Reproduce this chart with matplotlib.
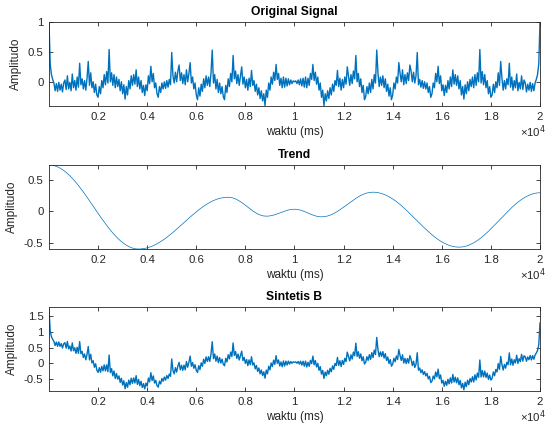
import numpy as np
import matplotlib
matplotlib.use("Agg")
import matplotlib.pyplot as plt

# time axis (ms), one sample every 50 ms
waktu = np.arange(0, 20001, 50)

# original signal 0..10000 ms; the second half is the mirror image
original_half = [
    1.00, 0.30, 0.12, 0.04, -0.02, -0.15, -0.03, -0.16, -0.01, -0.14,
    -0.04, -0.17, -0.02, 0.03, -0.13, 0.10, -0.12, -0.01, -0.15, 0.13,
    -0.10, 0.02, -0.14, 0.08, -0.09, 0.31, -0.05, 0.05, -0.12, 0.02,
    -0.14, 0.06, 0.34, -0.06, 0.15, -0.10, 0.00, -0.18, -0.04, -0.22,
    -0.26, -0.08, -0.20, 0.02, -0.10, 0.12, -0.05, 0.17, -0.02, 0.54,
    0.00, 0.15, -0.06, 0.12, -0.10, 0.08, -0.08, 0.04, -0.15, 0.00,
    -0.20, -0.05, -0.29, -0.08, -0.22, 0.02, -0.12, 0.10, -0.06, 0.12,
    -0.04, 0.20, -0.08, 0.08, -0.12, 0.02, -0.18, -0.06, -0.23, -0.05,
    -0.15, 0.10, -0.03, 0.26, 0.00, 0.14, -0.10, -0.02, -0.20, -0.26,
    -0.08, -0.18, -0.02, -0.12, 0.00, -0.11, 0.02, -0.09, 0.04, -0.05,
    0.49, 0.10, -0.02, 0.16, 0.00, 0.18, 0.28, 0.02, 0.15, -0.03,
    0.12, -0.05, 0.20, 0.00, 0.14, 0.32, -0.02, 0.08, -0.12, -0.02,
    -0.22, -0.30, -0.10, -0.24, -0.04, -0.16, 0.05, -0.10, 0.10, -0.06,
    0.08, -0.08, 0.15, 0.53, -0.02, 0.12, -0.12, 0.04, -0.18, -0.02,
    -0.20, -0.08, -0.25, -0.30, -0.06, -0.18, 0.05, -0.08, 0.14, 0.00,
    0.44, 0.05, 0.18, -0.03, 0.12, -0.06, 0.10, 0.25, -0.04, 0.08,
    -0.10, 0.04, -0.14, 0.06, -0.08, 0.19, -0.06, 0.02, -0.16, -0.04,
    -0.22, -0.10, -0.28, -0.15, -0.32, -0.20, -0.40, -0.14, -0.26, -0.02,
    -0.14, 0.08, -0.04, 0.16, 0.02, 0.29, 0.04, 0.14, -0.06, 0.06,
    -0.10, 0.08, -0.09, 0.06, -0.07, 0.05, -0.05, 0.03, -0.03, 0.015,
    0.00,
]
original = np.array(original_half + original_half[-2::-1])

# trend, same 50 ms grid
trend = np.array([
    0.730,
    0.729, 0.728, 0.724, 0.720, 0.715, 0.708, 0.700, 0.691, 0.681, 0.669,
    0.657, 0.643, 0.629, 0.613, 0.596, 0.578, 0.560, 0.540, 0.520, 0.499,
    0.476, 0.454, 0.430, 0.406, 0.381, 0.355, 0.329, 0.303, 0.276, 0.249,
    0.221, 0.193, 0.165, 0.136, 0.108, 0.079, 0.051, 0.022, -0.006, -0.035,
    -0.063, -0.091, -0.119, -0.146, -0.173, -0.199, -0.225, -0.251, -0.276, -0.300,
    -0.324, -0.346, -0.369, -0.390, -0.410, -0.430, -0.448, -0.466, -0.483, -0.499,
    -0.513, -0.527, -0.539, -0.551, -0.561, -0.570, -0.578, -0.585, -0.590, -0.594,
    -0.598, -0.599, -0.600,
    -0.600, -0.598, -0.597, -0.594, -0.591, -0.586, -0.582, -0.576, -0.570, -0.563,
    -0.555, -0.547, -0.537, -0.528, -0.517, -0.507, -0.495, -0.483, -0.470, -0.457,
    -0.444, -0.430, -0.415, -0.400, -0.385, -0.369, -0.353, -0.337, -0.320, -0.303,
    -0.286, -0.269, -0.252, -0.234, -0.216, -0.199, -0.181, -0.164, -0.146, -0.128,
    -0.111, -0.094, -0.077, -0.060, -0.043, -0.027, -0.011, 0.005, 0.020, 0.035,
    0.050, 0.064, 0.077, 0.090, 0.103, 0.115, 0.127, 0.137, 0.148, 0.157,
    0.167, 0.175, 0.183, 0.190, 0.196, 0.202, 0.206, 0.211, 0.214, 0.217,
    0.218, 0.220, 0.220,
    0.219, 0.217, 0.213, 0.208, 0.201, 0.193, 0.184, 0.173, 0.162, 0.149,
    0.136, 0.122, 0.108, 0.093, 0.078, 0.062, 0.047, 0.032, 0.018, 0.004,
    -0.009, -0.022, -0.033, -0.044, -0.053, -0.061, -0.068, -0.073, -0.077, -0.079,
    -0.080,
    -0.079, -0.078, -0.075, -0.072, -0.068, -0.063, -0.057, -0.050, -0.043, -0.036,
    -0.029, -0.021, -0.014, -0.007, 0.000, 0.007, 0.013, 0.018, 0.022, 0.025,
    0.028, 0.029, 0.030,
    0.029, 0.028, 0.025, 0.020, 0.015, 0.009, 0.002, -0.005, -0.013, -0.021,
    -0.030, -0.039, -0.047, -0.055, -0.062, -0.069, -0.075, -0.080, -0.085, -0.088,
    -0.089, -0.090,
    -0.089, -0.088, -0.085, -0.081, -0.077, -0.071, -0.064, -0.056, -0.047, -0.038,
    -0.028, -0.017, -0.005, 0.008, 0.020, 0.034, 0.048, 0.062, 0.076, 0.090,
    0.105, 0.120, 0.134, 0.148, 0.162, 0.176, 0.190, 0.203, 0.215, 0.227,
    0.238, 0.248, 0.257, 0.266, 0.274, 0.281, 0.287, 0.291, 0.295, 0.298,
    0.299, 0.300,
    0.300, 0.298, 0.296, 0.293, 0.289, 0.284, 0.279, 0.272, 0.265, 0.257,
    0.248, 0.238, 0.228, 0.217, 0.205, 0.193, 0.179, 0.166, 0.151, 0.136,
    0.121, 0.105, 0.088, 0.071, 0.054, 0.036, 0.018, -0.001, -0.019, -0.038,
    -0.057, -0.077, -0.096, -0.115, -0.135, -0.155, -0.174, -0.193, -0.213, -0.232,
    -0.251, -0.269, -0.288, -0.306, -0.324, -0.341, -0.358, -0.375, -0.391, -0.406,
    -0.421, -0.436, -0.449, -0.463, -0.475, -0.487, -0.498, -0.508, -0.518, -0.527,
    -0.535, -0.542, -0.549, -0.554, -0.559, -0.563, -0.566, -0.568, -0.570, -0.570,
    -0.570, -0.568, -0.566, -0.562, -0.558, -0.553, -0.546, -0.539, -0.531, -0.522,
    -0.512, -0.502, -0.490, -0.478, -0.465, -0.451, -0.437, -0.422, -0.406, -0.389,
    -0.372, -0.355, -0.337, -0.319, -0.300, -0.281, -0.261, -0.241, -0.221, -0.201,
    -0.181, -0.160, -0.140, -0.120, -0.099, -0.079, -0.059, -0.039, -0.019, 0.001,
    0.020, 0.039, 0.057, 0.075, 0.092, 0.109, 0.126, 0.142, 0.157, 0.171,
    0.185, 0.198, 0.210, 0.222, 0.232, 0.242, 0.251, 0.259, 0.266, 0.273,
    0.278, 0.282, 0.286, 0.288, 0.290, 0.290,
])

# synthetic signal = original + trend
sintetis = original + trend

xticks = [2000, 4000, 6000, 8000, 10000, 12000, 14000, 16000, 18000, 20000]
xtick_labels = ['0.2', '0.4', '0.6', '0.8', '1', '1.2', '1.4', '1.6', '1.8', '2']

titles = ['Original Signal', 'Trend', 'Sintetis B']
series = [original, trend, sintetis]
linewidths = [1.0, 0.5, 1.0]
ylims = [(-0.405, 1.0), (-0.6, 0.73), (-0.89, 1.8)]
yticks = [[0, 0.5, 1], [-0.5, 0, 0.5], [-0.5, 0, 0.5, 1, 1.5]]
ytick_labels = [['0', '0.5', '1'], ['-0.5', '0', '0.5'], ['-0.5', '0', '0.5', '1', '1.5']]

plt.rcParams['font.family'] = ['Liberation Sans', 'DejaVu Sans']
plt.rcParams['axes.unicode_minus'] = False

dark = '#262626'
fig = plt.figure(figsize=(5.46, 4.33), dpi=100)
boxes = [[0.0897, 0.7552, 0.8993, 0.194],
         [0.0897, 0.4249, 0.8993, 0.194],
         [0.0897, 0.0970, 0.8993, 0.194]]

for i in range(3):
    ax = fig.add_axes(boxes[i])
    ax.plot(waktu, series[i], color='#0072BD', lw=linewidths[i])
    ax.set_xlim(0, 20000)
    ax.set_ylim(*ylims[i])
    ax.set_xticks(xticks)
    ax.set_xticklabels(xtick_labels)
    ax.set_yticks(yticks[i])
    ax.set_yticklabels(ytick_labels[i])
    ax.tick_params(direction='in', top=True, right=True, length=3, width=0.6,
                   colors=dark, labelsize=8.2, pad=4)
    for sp in ax.spines.values():
        sp.set_linewidth(0.6)
        sp.set_color(dark)
    ax.set_title(titles[i], fontsize=8.7, fontweight='bold', color='black', pad=5)
    ax.set_xlabel('waktu (ms)', fontsize=8.5, color=dark, labelpad=3)
    ax.set_ylabel('Amplitudo', fontsize=8.5, color=dark, labelpad=4)
    ax.text(1.012, -0.31, '×10$^{4}$', transform=ax.transAxes, ha='right',
            va='center', fontsize=8.2, color=dark)

fig.savefig('out.png', dpi=100)
